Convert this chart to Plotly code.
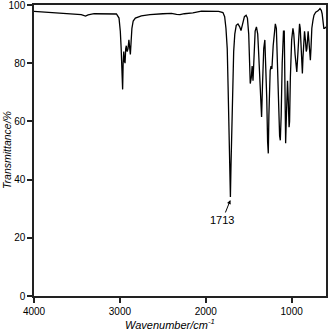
"""IR spectrum: transmittance vs wavenumber, with the C=O band labelled."""
import plotly.graph_objects as go

# wavenumber (cm-1) and transmittance (%)
wavenumber = [
    4000, 3900, 3800, 3700, 3600, 3500, 3450, 3400, 3370, 3300, 3200, 3100,
    3040, 3010, 2995, 2985, 2975, 2968, 2962, 2955, 2948, 2940, 2932, 2925,
    2915, 2905, 2895, 2885, 2878, 2870, 2860, 2845, 2820, 2750, 2650, 2500,
    2400, 2340, 2300, 2250, 2150, 2050, 1950, 1850, 1800, 1780, 1765, 1750,
    1740, 1730, 1720, 1713, 1706, 1695, 1685, 1675, 1662, 1645, 1625, 1605,
    1590, 1575, 1550, 1530, 1515, 1500, 1490, 1482, 1470, 1460, 1450, 1440,
    1425, 1410, 1395, 1385, 1375, 1368, 1360, 1350, 1340, 1325, 1312, 1300,
    1290, 1280, 1272, 1265, 1255, 1250, 1240, 1230, 1215, 1200, 1190, 1178,
    1165, 1150, 1140, 1132, 1122, 1110, 1095, 1086, 1080, 1075, 1070, 1063,
    1055, 1048, 1040, 1030, 1024, 1015, 1000, 985, 975, 960, 950, 940,
    930, 918, 908, 900, 890, 880, 875, 868, 858, 850, 840, 830,
    822, 815, 808, 800, 790, 782, 775, 765, 752, 740, 720, 693,
    670, 655, 645, 635, 625, 615, 605, 600,
]
transmittance = [
    97.8, 97.6, 97.5, 97.3, 97.2, 97.0, 96.7, 96.2, 96.6, 97.0, 97.0, 97.1,
    96.9, 95.5, 91, 85, 76, 71, 80, 84, 81, 80, 85, 86,
    84, 85, 88, 84, 83, 87, 92, 94.5, 95.5, 96.3, 96.7, 97.0,
    97.1, 96.8, 96.7, 97.0, 97.3, 97.9, 97.9, 97.8, 97.4, 96, 92, 85,
    72, 55, 40, 34, 45, 62, 75, 84, 90, 93, 93.5, 92.5,
    91.2, 93, 96, 96.5, 95.5, 90, 80, 73, 75, 79, 74, 82,
    91, 92.5, 90, 84, 76, 74, 64, 61.5, 72, 85, 88, 80,
    68, 53, 49, 62, 76, 77.5, 79, 78, 86, 92, 93.5, 92,
    80, 62, 55, 53.5, 62, 80, 91, 91, 75, 56, 52.5, 60,
    70, 74, 68, 58, 60, 75, 88, 92, 90, 83, 78, 77,
    82, 91, 93.5, 92, 84, 77, 76.5, 82, 90, 91, 88, 84,
    85, 90, 91, 88, 84, 81, 85, 92, 94.7, 96.5, 97.5, 98,
    98.8, 98.2, 97, 94, 92, 92, 92.5, 92.5,
]

x_ticks = [4000, 3000, 2000, 1000]
y_ticks = [0, 20, 40, 60, 80, 100]

peak_label = "1713"
peak_x = 1713
peak_y = 33

FONT = "Liberation Sans, Arial"

fig = go.Figure()
fig.add_trace(go.Scatter(
    x=wavenumber,
    y=transmittance,
    mode="lines",
    line=dict(color="black", width=1.3),
    showlegend=False,
    hoverinfo="skip",
))

fig.add_annotation(
    x=peak_x, y=peak_y,
    text=peak_label,
    showarrow=True,
    arrowhead=2, arrowsize=0.8, arrowwidth=1, arrowcolor="black",
    ax=-8, ay=20,
    font=dict(family=FONT, size=11, color="black"),
)

# axis titles placed by hand so they do not push the margins
fig.add_annotation(
    xref="paper", yref="paper", x=0.465, y=-0.065,
    xanchor="center", yanchor="top",
    text="<i>Wavenumber/cm<sup>-1</sup></i>",
    showarrow=False,
    font=dict(family=FONT, size=11, color="black"),
)
fig.add_annotation(
    xref="paper", yref="paper", x=-0.094, y=0.5,
    xanchor="center", yanchor="middle",
    text="<i>Transmittance/%</i>",
    textangle=-90,
    showarrow=False,
    font=dict(family=FONT, size=10.5, color="black"),
)

axis_common = dict(
    showline=True,
    linecolor="#222",
    linewidth=1.5,
    mirror=True,
    ticks="outside",
    ticklen=5,
    tickwidth=1.5,
    tickcolor="#222",
    showgrid=False,
    zeroline=False,
    automargin=False,
    ticklabeloverflow="allow",
    tickfont=dict(family=FONT, size=10, color="black"),
)

fig.update_layout(
    width=328,
    height=331,
    margin=dict(l=34, r=2, t=5, b=35),
    paper_bgcolor="white",
    plot_bgcolor="white",
    xaxis=dict(range=[4000, 600], tickvals=x_ticks, **axis_common),
    yaxis=dict(range=[0, 100], tickvals=y_ticks, **axis_common),
)

# drop the browser's default body margin so the figure sits at the corner
fig.write_html(
    "out.html",
    config={"displayModeBar": False},
    post_script="document.body.style.margin='0';",
)
